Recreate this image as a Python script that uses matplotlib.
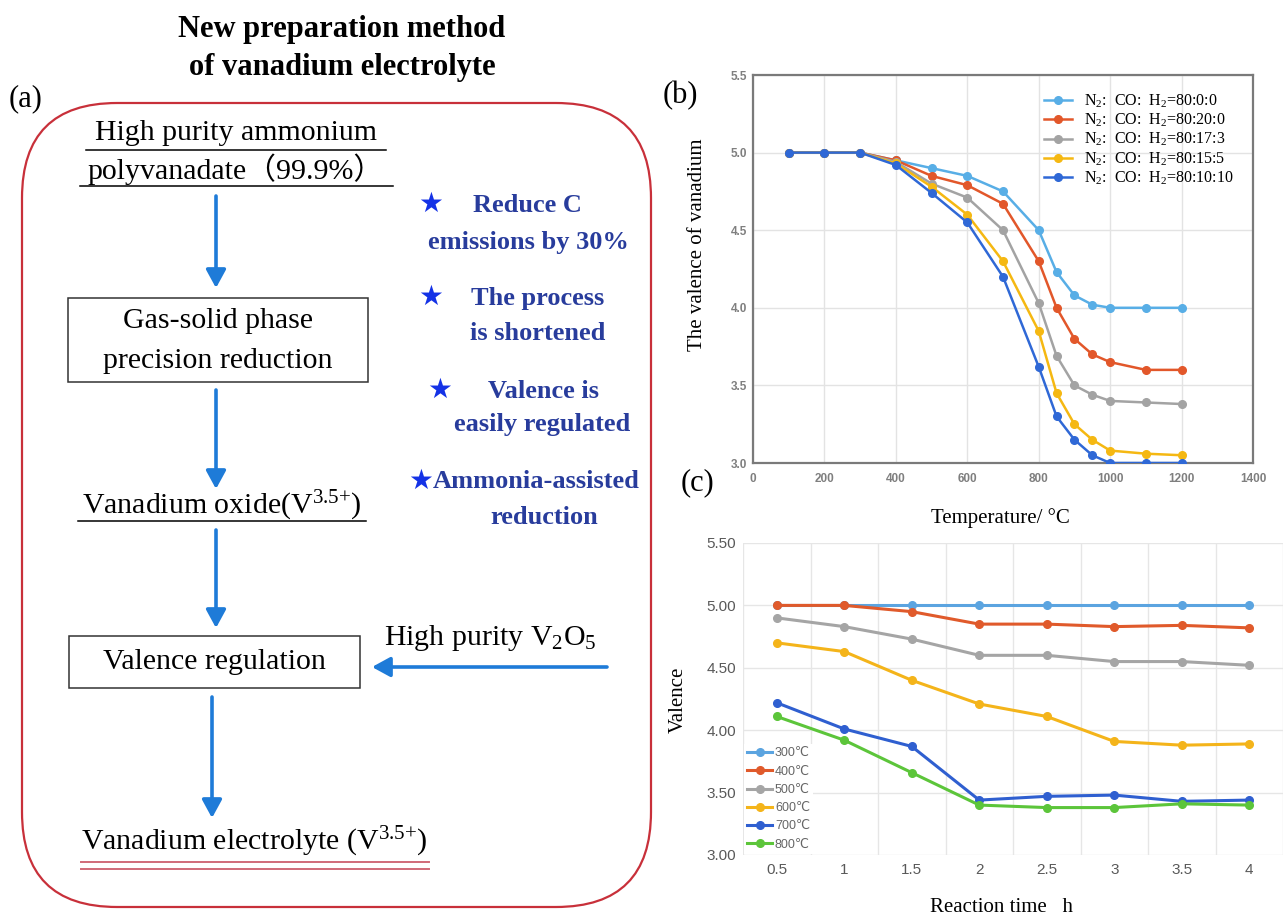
import matplotlib
matplotlib.use('Agg')
import matplotlib.pyplot as plt
from matplotlib.patches import FancyBboxPatch, Rectangle

plt.rcParams['mathtext.fontset'] = 'custom'
plt.rcParams['mathtext.rm'] = 'Liberation Serif'
plt.rcParams['mathtext.it'] = 'Liberation Serif:italic'
plt.rcParams['mathtext.bf'] = 'Liberation Serif:bold'

SERIF = ['Liberation Serif', 'DejaVu Serif']
SANS = ['Liberation Sans', 'DejaVu Sans']

# ---------------- data: panel (b) ----------------
temps = [100, 200, 300, 400, 500, 600, 700, 800, 850, 900, 950, 1000, 1100, 1200]
gas_labels = ["N$_2$:  CO:  H$_2$=80:0:0",
              "N$_2$:  CO:  H$_2$=80:20:0",
              "N$_2$:  CO:  H$_2$=80:17:3",
              "N$_2$:  CO:  H$_2$=80:15:5",
              "N$_2$:  CO:  H$_2$=80:10:10"]
val_80_0_0 = [5.00, 5.00, 5.00, 4.95, 4.90, 4.85, 4.75, 4.50, 4.23, 4.08, 4.02, 4.00, 4.00, 4.00]
val_80_20_0 = [5.00, 5.00, 5.00, 4.95, 4.85, 4.79, 4.67, 4.30, 4.00, 3.80, 3.70, 3.65, 3.60, 3.60]
val_80_17_3 = [5.00, 5.00, 5.00, 4.94, 4.80, 4.71, 4.50, 4.03, 3.69, 3.50, 3.44, 3.40, 3.39, 3.38]
val_80_15_5 = [5.00, 5.00, 5.00, 4.93, 4.78, 4.60, 4.30, 3.85, 3.45, 3.25, 3.15, 3.08, 3.06, 3.05]
val_80_10_10 = [5.00, 5.00, 5.00, 4.92, 4.74, 4.55, 4.20, 3.62, 3.30, 3.15, 3.05, 3.00, 3.00, 3.00]
b_xticks = [0, 200, 400, 600, 800, 1000, 1200, 1400]
b_yticks = [3.0, 3.5, 4.0, 4.5, 5.0, 5.5]

# ---------------- data: panel (c) ----------------
times = [0.5, 1, 1.5, 2, 2.5, 3, 3.5, 4]
time_labels = ['0.5', '1', '1.5', '2', '2.5', '3', '3.5', '4']
temp_labels = ['300℃', '400℃', '500℃', '600℃', '700℃', '800℃']
v300 = [5.00, 5.00, 5.00, 5.00, 5.00, 5.00, 5.00, 5.00]
v400 = [5.00, 5.00, 4.95, 4.85, 4.85, 4.83, 4.84, 4.82]
v500 = [4.90, 4.83, 4.73, 4.60, 4.60, 4.55, 4.55, 4.52]
v600 = [4.70, 4.63, 4.40, 4.21, 4.11, 3.91, 3.88, 3.89]
v700 = [4.22, 4.01, 3.87, 3.44, 3.47, 3.48, 3.43, 3.44]
v800 = [4.11, 3.92, 3.66, 3.40, 3.38, 3.38, 3.41, 3.40]
c_yticks = [3.0, 3.5, 4.0, 4.5, 5.0, 5.5]

W, H = 1285, 915
fig = plt.figure(figsize=(W / 100, H / 100), dpi=100)
fig.patch.set_facecolor('white')

# pixel-coordinate overlay axes for panel (a) and labels
ax0 = fig.add_axes([0, 0, 1, 1])
ax0.set_xlim(0, W)
ax0.set_ylim(H, 0)
ax0.axis('off')

def px(x0, y0, x1, y1):
    return [x0 / W, 1 - y1 / H, (x1 - x0) / W, (y1 - y0) / H]

# ---------------- panel (a) ----------------
RED = '#C8303A'
ARROW = '#1E7BD8'
NAVY = '#283C9C'
STAR = '#1432E6'

ax0.add_patch(FancyBboxPatch((22, 103), 629, 804,
                             boxstyle='round,pad=0,rounding_size=95',
                             fc='none', ec=RED, lw=1.6))

ax0.text(342, 30, 'New preparation method', ha='center', va='center',
         fontsize=22, fontweight='bold', family=SERIF)
ax0.text(342, 67, 'of vanadium electrolyte', ha='center', va='center',
         fontsize=22, fontweight='bold', family=SERIF)
ax0.text(26, 99, '(a)', ha='center', va='center', fontsize=22, family=SERIF)

fs_a = 21.5
ax0.text(236, 133, 'High purity ammonium', ha='center', va='center',
         fontsize=fs_a, family=SERIF)
ax0.plot([86, 386], [150, 150], color='k', lw=1.1)
ax0.text(236, 169, 'polyvanadate（99.9%）', ha='center', va='center',
         fontsize=fs_a, family=['Liberation Serif', 'Noto Sans CJK SC'])
ax0.plot([80, 393], [186, 186], color='k', lw=1.1)

def arrow(x0, y0, x1, y1):
    ax0.annotate('', xy=(x1, y1), xytext=(x0, y0),
                 arrowprops=dict(arrowstyle='-|>,head_length=0.55,head_width=0.3',
                                 color=ARROW, lw=2.6, mutation_scale=20,
                                 shrinkA=0, shrinkB=0))

arrow(216, 196, 216, 288)
ax0.add_patch(Rectangle((68, 298), 300, 84, fc='none', ec='#333333', lw=1.1))
ax0.text(218, 321, 'Gas-solid phase', ha='center', va='center', fontsize=fs_a, family=SERIF)
ax0.text(218, 361, 'precision reduction', ha='center', va='center', fontsize=fs_a, family=SERIF)
arrow(216, 390, 216, 489)

ax0.text(222, 506, 'Vanadium oxide(V$^{\\text{3.5+}}$)', ha='center', va='center',
         fontsize=fs_a, family=SERIF)
ax0.plot([78, 366], [521, 521], color='k', lw=1.1)
arrow(216, 530, 216, 628)

ax0.add_patch(Rectangle((69, 636), 291, 52, fc='none', ec='#333333', lw=1.1))
ax0.text(214, 662, 'Valence regulation', ha='center', va='center', fontsize=fs_a, family=SERIF)
ax0.text(490, 638, 'High purity V$_2$O$_5$', ha='center', va='center',
         fontsize=fs_a, family=SERIF)
arrow(607, 667, 372, 667)
arrow(212, 697, 212, 818)

ax0.text(254, 842, 'Vanadium electrolyte (V$^{\\text{3.5+}}$)', ha='center', va='center',
         fontsize=fs_a, family=SERIF)
ax0.plot([81, 429], [862, 862], color='#D06A78', lw=1.4)
ax0.plot([81, 429], [869, 869], color='#D06A78', lw=1.4)

fs_s = 19
def star(x, y):
    ax0.text(x, y, '★', ha='center', va='center', fontsize=20, color=STAR,
             family=['DejaVu Sans'])

def blue(x, y, s, ha='center'):
    ax0.text(x, y, s, ha=ha, va='center', fontsize=fs_s, fontweight='bold',
             color=NAVY, family=SERIF)

star(431, 204)
blue(527, 205, 'Reduce C')
blue(528, 243, 'emissions by 30%')
star(431, 297)
blue(538, 298, 'The process')
blue(538, 334, 'is shortened')
star(440, 390)
blue(543, 391, 'Valence is')
blue(542, 424, 'easily regulated')
star(421, 481)
blue(433, 482, 'Ammonia-assisted', ha='left')
blue(544, 517, 'reduction')

# ---------------- panel (b) ----------------
axb = fig.add_axes(px(753, 75, 1253, 463))
colors_b = ['#58AEE6', '#E2572A', '#A3A3A3', '#F5B812', '#2F68D6']
series_b = [val_80_0_0, val_80_20_0, val_80_17_3, val_80_15_5, val_80_10_10]
for vals, col, lab in zip(series_b, colors_b, gas_labels):
    axb.plot(temps, vals, '-o', color=col, lw=1.8, ms=5.5, label=lab, zorder=3)
axb.set_xlim(0, 1400)
axb.set_ylim(3.0, 5.5)
axb.set_xticks(b_xticks)
axb.set_yticks(b_yticks)
axb.set_yticklabels([f'{v:.1f}' for v in b_yticks])
axb.grid(True, color='#E3E3E3', lw=1.0, zorder=0)
axb.set_axisbelow(True)
for sp in axb.spines.values():
    sp.set_color('#7A7A7A')
    sp.set_linewidth(1.6)
axb.tick_params(length=0, labelsize=8.5, labelcolor='#7F7F7F')
axb.tick_params(axis='x', pad=7)
axb.tick_params(axis='y', pad=4)
for t in axb.get_xticklabels() + axb.get_yticklabels():
    t.set_family(SANS)
    t.set_fontweight('bold')
leg_b = axb.legend(loc='upper right', bbox_to_anchor=(0.962, 0.955), frameon=False,
                   prop={'family': SERIF, 'size': 11.5}, handlelength=1.75,
                   handletextpad=0.75, labelspacing=0.12, borderaxespad=0.0,
                   borderpad=0.0)

ax0.text(680, 96, '(b)', ha='center', va='center', fontsize=22, family=SERIF)
ax0.text(698, 245, 'The valence of vanadium', ha='center', va='center',
         rotation=90, fontsize=15, family=SERIF)
ax0.text(1000, 518, 'Temperature/ °C', ha='center', va='center', fontsize=15, family=SERIF)

# ---------------- panel (c) ----------------
axc = fig.add_axes(px(743, 543, 1283, 855))
colors_c = ['#5BA4E0', '#E05A2B', '#A5A5A5', '#F4B41A', '#2F5FD0', '#5CC53A']
series_c = [v300, v400, v500, v600, v700, v800]
for vals, col, lab in zip(series_c, colors_c, temp_labels):
    axc.plot(times, vals, '-o', color=col, lw=2.2, ms=5.5, label=lab, zorder=3)
axc.set_xlim(0.25, 4.25)
axc.set_ylim(3.0, 5.5)
axc.set_xticks(times)
axc.set_xticklabels(time_labels)
axc.set_yticks(c_yticks)
axc.set_yticklabels([f'{v:.2f}' for v in c_yticks])
axc.set_xticks([0.25 + 0.5 * k for k in range(9)], minor=True)
axc.grid(True, which='major', axis='y', color='#E6E6E6', lw=1.0)
axc.grid(True, which='minor', axis='x', color='#E6E6E6', lw=1.0)
axc.set_axisbelow(True)
for sp in axc.spines.values():
    sp.set_visible(False)
axc.tick_params(which='both', length=0, labelsize=11, labelcolor='#595959')
axc.tick_params(axis='x', pad=6)
axc.tick_params(axis='y', pad=5)
for t in axc.get_xticklabels() + axc.get_yticklabels():
    t.set_family(SANS)
leg_c = axc.legend(loc='lower left', bbox_to_anchor=(0.0, 0.0), frameon=True,
                   prop={'family': SANS, 'size': 9}, handlelength=2.0,
                   handletextpad=0.2, labelspacing=0.5, borderaxespad=0.1,
                   borderpad=0.25, fancybox=False)
leg_c.get_frame().set_edgecolor('none')
leg_c.get_frame().set_facecolor('white')
leg_c.get_frame().set_alpha(1.0)
for t in leg_c.get_texts():
    t.set_color('#666666')

ax0.text(698, 483, '(c)', ha='center', va='center', fontsize=22, family=SERIF)
ax0.text(678, 700, 'Valence', ha='center', va='center', rotation=90,
         fontsize=15, family=SERIF)
ax0.text(1002, 907, 'Reaction time   h', ha='center', va='center', fontsize=15, family=SERIF)

fig.savefig('out.png', dpi=100, facecolor='white')
